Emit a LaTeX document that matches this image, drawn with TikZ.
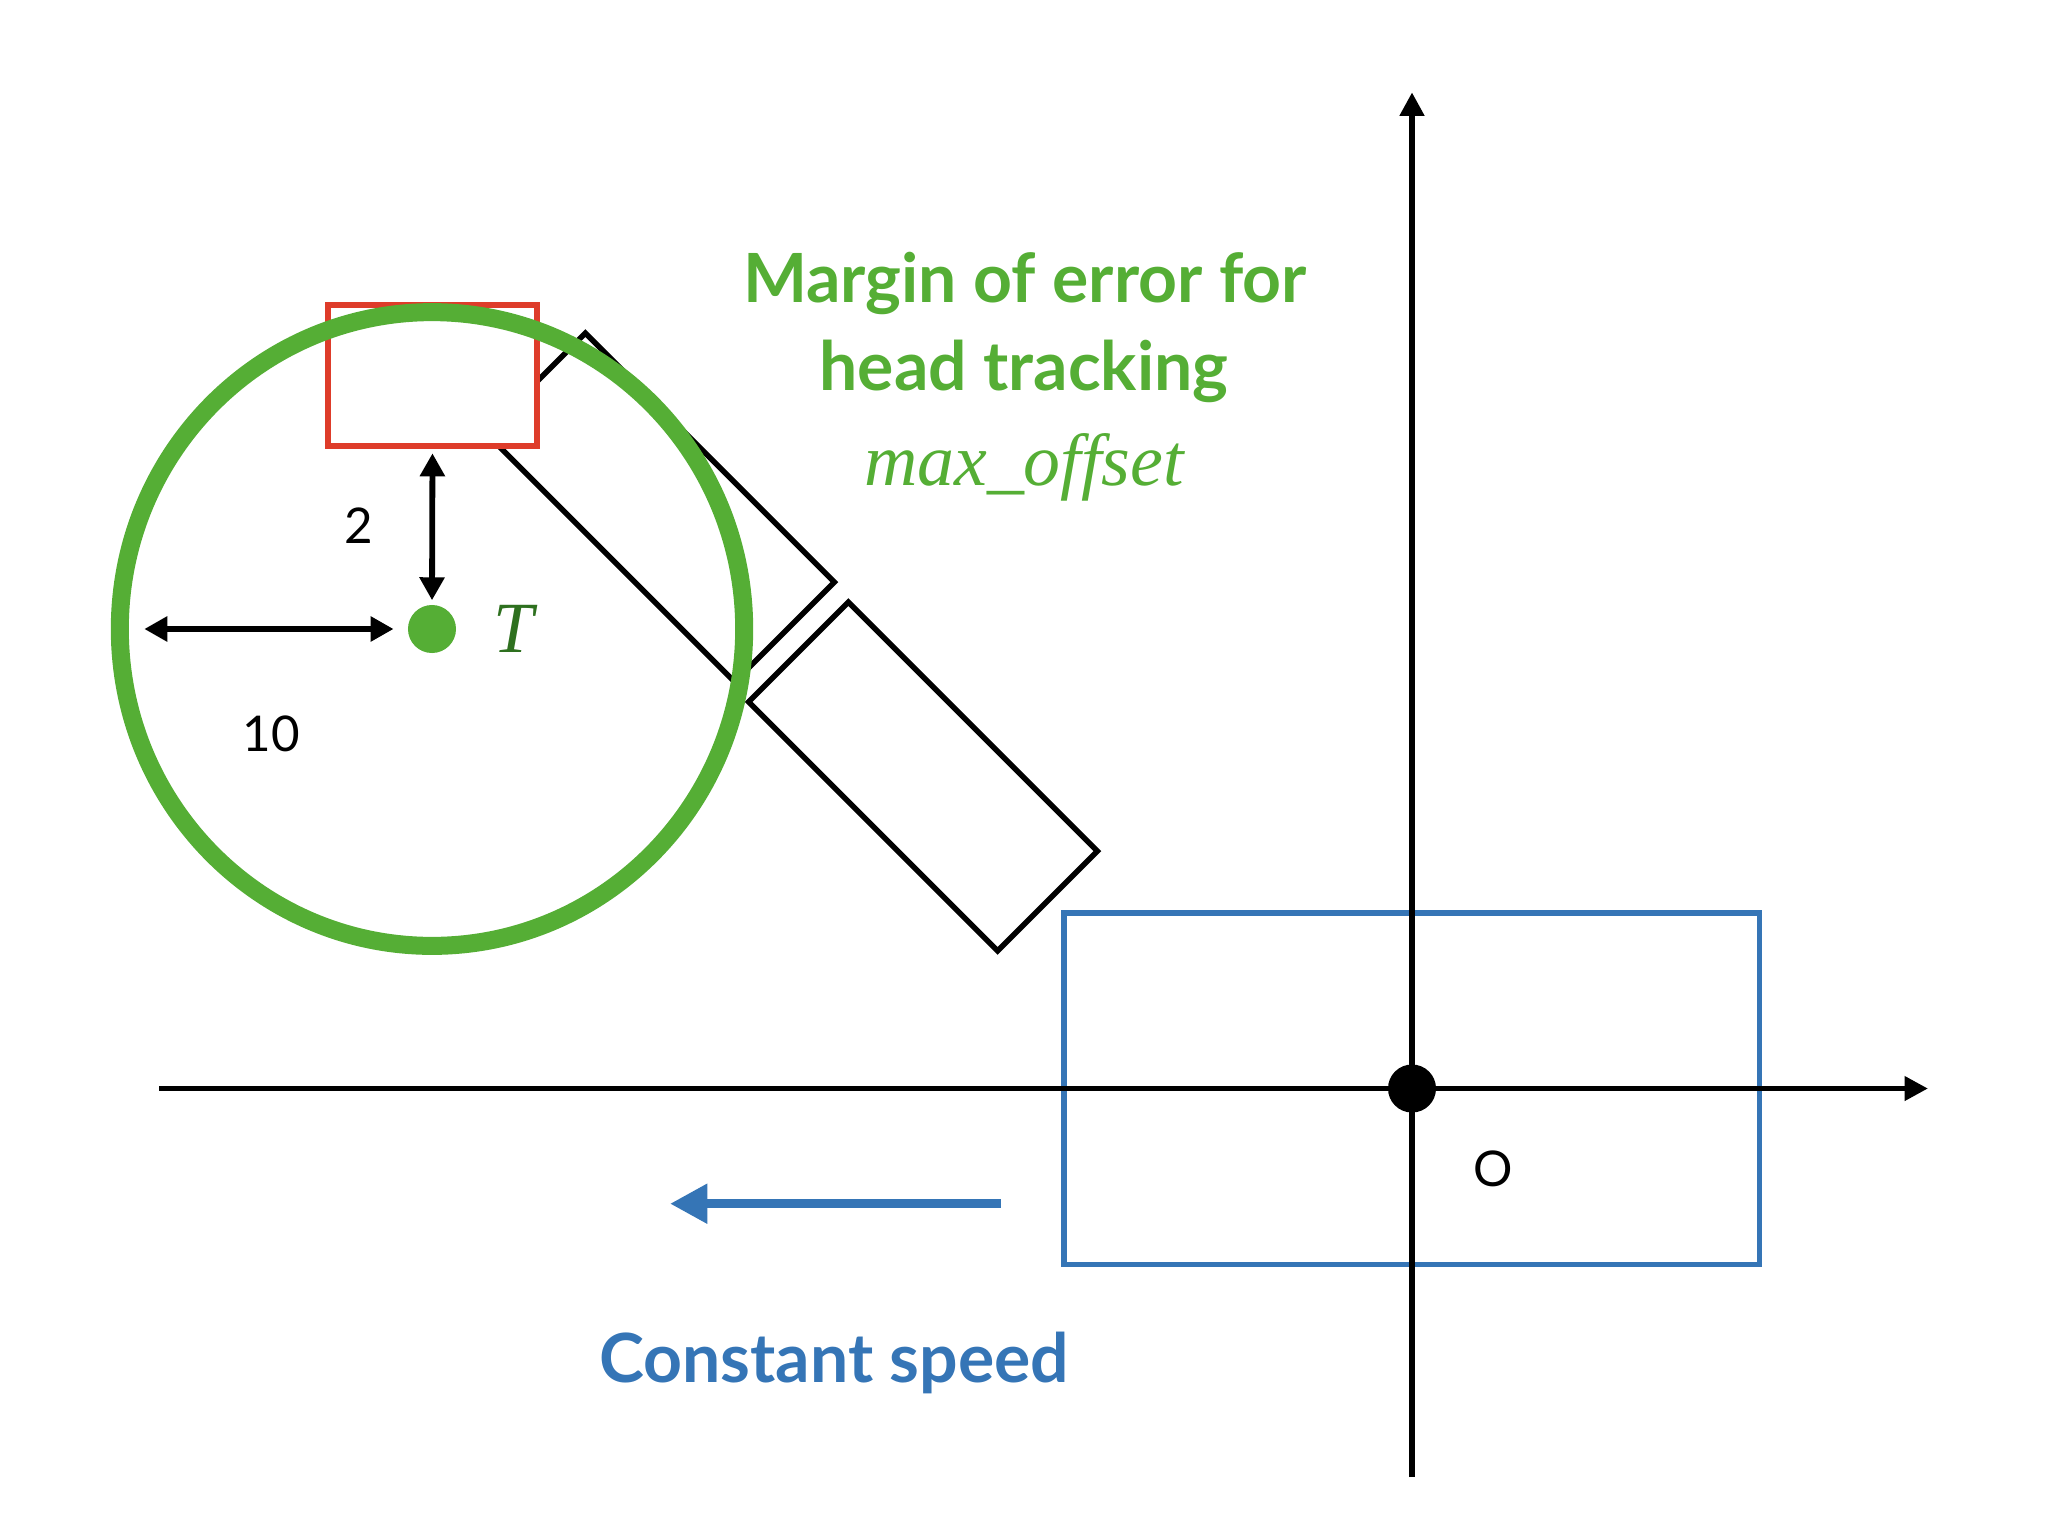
\documentclass[tikz,border=0pt]{standalone}
\usepackage{fontspec}
\setmainfont{Lato}
\newfontfamily\serifit{Liberation Serif}
\usetikzlibrary{arrows.meta}
\definecolor{errgreen}{RGB}{85,174,53}
\definecolor{tgreen}{RGB}{46,112,31}
\definecolor{headred}{RGB}{222,60,42}
\definecolor{carblue}{RGB}{53,117,182}
\begin{document}
\begin{tikzpicture}[x=0.01cm,y=-0.01cm,
	bar/.style={draw,line width=0.055cm,minimum width=3.52cm,minimum height=1.41cm,inner sep=0,rotate=-45},
	dim/.style={line width=0.058cm,{Triangle[length=0.23cm,width=0.24cm]}-{Triangle[length=0.23cm,width=0.24cm]}},
	axis/.style={line width=0.058cm,-{Triangle[length=0.235cm,width=0.235cm]}},
	num/.style={font=\fontsize{14}{16}\selectfont,anchor=base},
	title/.style={font=\fontsize{19.3}{22}\selectfont\bfseries,anchor=base}]
	\useasboundingbox (0,0) rectangle (2048,1536);
	\node[bar] (bar1) at (660,507.5) {};
	\node[bar] (bar2) at (923,776.5) {};
	\node[draw=headred,fill=white,line width=0.055cm,minimum width=2.09cm,minimum height=1.41cm,inner sep=0] (head) at (432.5,375.5) {};
	\node[circle,fill=errgreen,minimum size=0.48cm,inner sep=0] (T) at (432,629) {};
	\draw[errgreen,line width=0.18cm] (T.center) ellipse [x radius=3.12cm,y radius=3.167cm];
	\coordinate (rim) at (144.3,629);
	\draw[dim,shorten <=0.045cm,shorten >=0.04cm] (head.south) -- (T.north);
	\draw[dim,shorten >=0.137cm] (rim) -- (T.west);
	\draw (358.5,543.3) node[num] (two) {2};
	\draw (271,751.7) node[num] (ten) {10};
	\draw (514,652) node[anchor=base,text=tgreen,font=\fontsize{20.5}{24}\serifit\itshape] (tlabel) {T};
	\node[draw=carblue,line width=0.055cm,minimum width=6.955cm,minimum height=3.515cm,inner sep=0] (car) at (1411.75,1088.75) {};
	\coordinate (xl) at (159,1088.5);
	\coordinate (xr) at (1928,1088.5);
	\coordinate (yb) at (1412,1477);
	\coordinate (yt) at (1412,92.3);
	\draw[axis] (xl) -- (xr);
	\draw[axis] (yb) -- (yt);
	\node[circle,fill=black,minimum size=0.48cm,inner sep=0] (O) at (1412,1088.5) {};
	\draw (1493,1186) node[num] (olabel) {O};
	\coordinate (trail) at (1000.7,1203.7);
	\coordinate (lead) at (670,1203.7);
	\draw[carblue,line width=0.09cm,-{Triangle[length=0.373cm,width=0.377cm]}] (trail) -- (lead);
	\draw (834,1382) node[title,text=carblue] (speed) {Constant speed};
	\draw (1025,302.7) node[title,text=errgreen] (margin) {Margin of error for};
	\draw (1024,390) node[title,text=errgreen] (tracking) {head tracking};
	\draw (1024,485) node[anchor=base,text=errgreen,font=\fontsize{21}{24}\serifit\itshape] (offset) {max\_offset};
\end{tikzpicture}
\end{document}
